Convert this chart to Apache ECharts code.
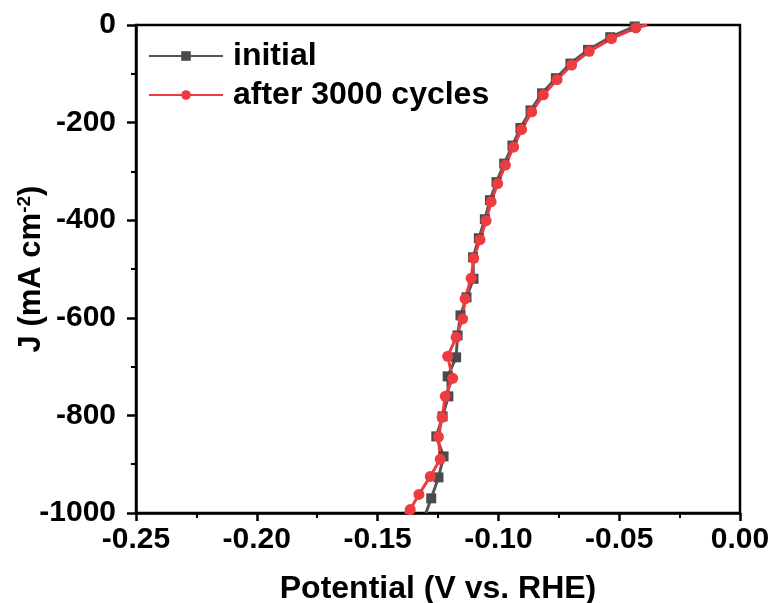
<!DOCTYPE html>
<html>
<head>
<meta charset="utf-8">
<script src="https://cdn.jsdelivr.net/npm/echarts@6/dist/echarts.min.js"></script>
<style>
  html, body { margin: 0; padding: 0; background: #fff; }
  #Map { width: 776px; height: 603px; }
</style>
</head>
<body>
<div id="Map"></div>
<script>
// data (top of curve first)
var initialV = [-0.0390, -0.0436, -0.0537, -0.0629, -0.0702, -0.0762, -0.0819, -0.0867, -0.0909, -0.0942,
                -0.0976, -0.1008, -0.1035, -0.1056, -0.1081, -0.1105, -0.1103, -0.1132, -0.1157, -0.1169,
                -0.1175, -0.1210, -0.1207, -0.1231, -0.1257, -0.1227, -0.1248, -0.1278, -0.1300];
var initialJ = [0, -3, -25, -51, -79, -109, -140, -175, -211, -247,
                -284, -322, -359, -398, -437, -476, -520, -558, -595, -636,
                -681, -720, -761, -802, -843, -884, -927, -970, -1000];

var cycledV = [-0.0384, -0.0431, -0.0532, -0.0624, -0.0697, -0.0757, -0.0814, -0.0862, -0.0904, -0.0937,
               -0.0971, -0.1003, -0.1030, -0.1051, -0.1076, -0.1102, -0.1113, -0.1138, -0.1148, -0.1175,
               -0.1210, -0.1189, -0.1220, -0.1233, -0.1248, -0.1241, -0.1282, -0.1329, -0.1365, -0.1388];
var cycledJ = [0, -6, -28, -54, -82, -112, -143, -178, -214, -250,
               -287, -325, -362, -401, -440, -478, -519, -561, -602, -640,
               -679, -724, -761, -804, -844, -890, -925, -962, -993, -1000];

var seriesNames = ['initial', 'after 3000 cycles'];
var xTicks = [-0.25, -0.20, -0.15, -0.10, -0.05, 0.00];

// first and last points only carry the line to the frame
function pairs(v, j) {
  var out = [];
  for (var i = 0; i < v.length; i++) {
    var item = { value: [v[i], j[i]] };
    if (i === 0 || i === v.length - 1) item.symbol = 'none';
    out.push(item);
  }
  return out;
}

var font = 'Liberation Sans, Arial, sans-serif';
var myChart = echarts.init(document.getElementById('Map'));
var option = {
    animation: false,
    grid: {
        left: 136, right: 36, top: 25, bottom: 90,
        containLabel: false, outerBoundsMode: 'none',
        show: true, borderColor: '#000', borderWidth: 2.5, backgroundColor: 'transparent'
    },
    legend: {
        data: seriesNames,
        orient: 'vertical',
        left: 143, top: 35,
        itemWidth: 74, itemHeight: 12, itemGap: 7,
        textStyle: { fontFamily: font, fontWeight: 'bold', fontSize: 32, color: '#000', padding: [0, 0, 0, 5] }
    },
    xAxis: {
        type: 'value',
        min: -0.25, max: 0, interval: 0.05,
        axisLine: { onZero: false, lineStyle: { color: '#000', width: 2.5 } },
        axisTick: { inside: false, length: 8, lineStyle: { width: 2.5 } },
        minorTick: { show: true, splitNumber: 2, length: 5, lineStyle: { color: '#000', width: 2 } },
        splitLine: { show: false },
        axisLabel: {
            margin: 12, fontFamily: font, fontWeight: 'bold', fontSize: 30, color: '#000',
            formatter: function (v) {
                for (var i = 0; i < xTicks.length; i++) if (Math.abs(v - xTicks[i]) < 1e-9) return xTicks[i].toFixed(2);
                return '';
            }
        },
        name: 'Potential (V vs. RHE)',
        nameLocation: 'middle', nameGap: 60, nameMoveOverlap: false,
        nameTextStyle: { fontFamily: font, fontWeight: 'bold', fontSize: 32, color: '#000' }
    },
    yAxis: {
        type: 'value',
        min: -1000, max: 0, interval: 200,
        axisLine: { onZero: false, lineStyle: { color: '#000', width: 2.5 } },
        axisTick: { inside: false, length: 9, lineStyle: { width: 2.5 } },
        minorTick: { show: true, splitNumber: 2, length: 5, lineStyle: { color: '#000', width: 2 } },
        splitLine: { show: false },
        axisLabel: {
            margin: 20, fontFamily: font, fontWeight: 'bold', fontSize: 30, color: '#000',
            formatter: function (v) { return String(v); }
        },
        name: 'J (mA cm{sup|-2})',
        nameLocation: 'middle', nameGap: 88, nameMoveOverlap: false,
        nameTextStyle: {
            fontFamily: font, fontWeight: 'bold', fontSize: 31, color: '#000',
            rich: { sup: { fontFamily: font, fontWeight: 'bold', fontSize: 19, color: '#000', verticalAlign: 'top', padding: [0, 0, 14, 0] } }
        }
    },
    series: [
        {
            name: seriesNames[0],
            type: 'line',
            symbol: 'rect', symbolSize: 10,
            itemStyle: { color: '#4a4a4a' },
            lineStyle: { color: '#555555', width: 3 },
            data: pairs(initialV, initialJ)
        },
        {
            name: seriesNames[1],
            type: 'line',
            symbol: 'circle', symbolSize: 11,
            itemStyle: { color: '#ee3b40' },
            lineStyle: { color: '#ee3b40', width: 3 },
            data: pairs(cycledV, cycledJ)
        }
    ]
};
myChart.setOption(option);
</script>
</body>
</html>
